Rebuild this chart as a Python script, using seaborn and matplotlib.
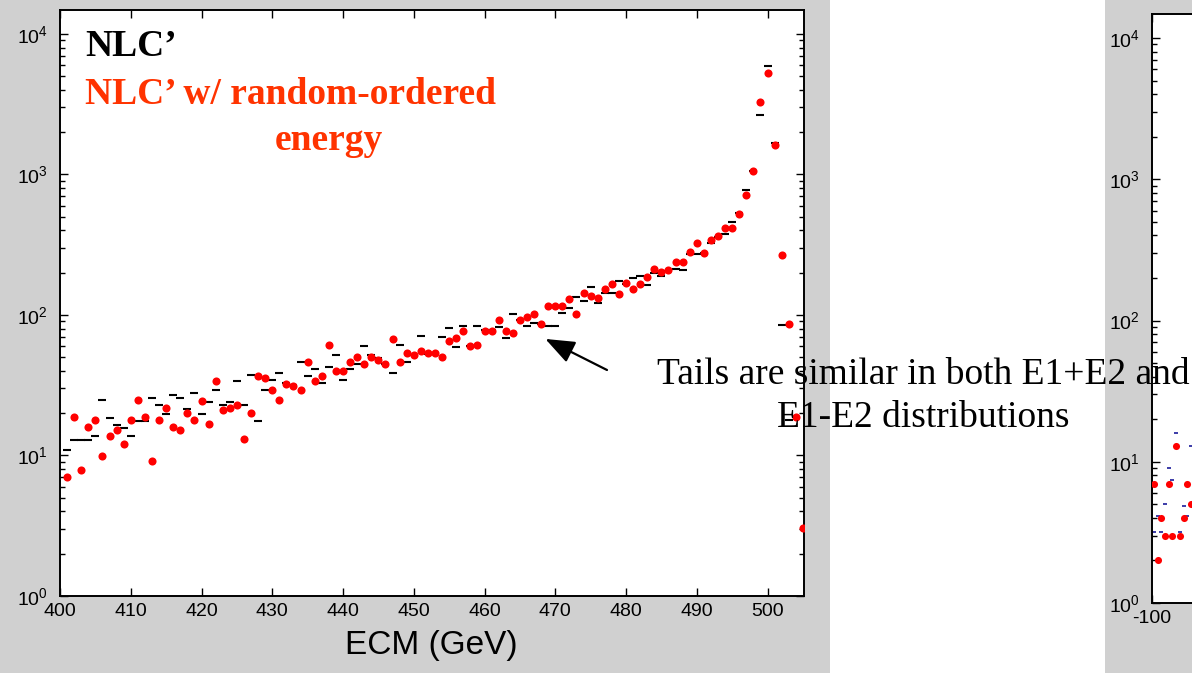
import numpy as np
import pandas as pd
import matplotlib
matplotlib.use("Agg")
import matplotlib.pyplot as plt
import seaborn as sns
from matplotlib.patches import Rectangle
from matplotlib.ticker import LogLocator, NullFormatter

# ---------------- data ----------------
ecm = list(range(401, 506))  # GeV bin centres

nlc_random = [7.03, 18.9, 7.85, 15.9, 17.8, 9.84, 13.8, 15.1, 12.0, 17.8,
              24.9, 18.9, 9.06, 17.8, 21.7, 15.9, 15.1, 19.9, 17.8, 24.3,
              16.8, 33.9, 21.1, 21.7, 22.9, 13.1, 19.9, 37.0, 35.8, 29.4,
              24.9, 32.1, 31.3, 29.4, 46.4, 33.9, 37.0, 61.4, 40.2, 40.2,
              46.4, 50.4, 45.1, 50.4, 47.7, 45.1, 66.9, 46.4, 53.5, 51.8,
              55.0, 53.5, 53.5, 50.4, 64.8, 68.9, 77.3, 59.7, 61.4, 77.3,
              77.3, 91.5, 77.3, 74.7, 91.5, 96.8, 102, 86.2, 115, 115,
              115, 129, 102, 144, 136, 132, 152, 165, 140, 170,
              152, 165, 186, 214, 203, 208, 238, 238, 282, 325,
              274, 341, 364, 418, 418, 523, 711, 1062, 3268, 5297,
              1619, 267, 86, 18.8, 3.03]

nlc = [10.9, 12.9, 12.9, 12.9, 13.7, 24.7, 18.6, 16.6, 15.7, 13.7,
       17.5, 17.5, 25.5, 22.7, 19.7, 26.9, 25.5, 21.4, 27.7, 19.7,
       24.1, 29.3, 22.7, 24.1, 33.7, 22.7, 37.6, 17.6, 29.3, 34.6,
       38.8, 32.8, 31.9, 46.0, 36.7, 41.1, 32.8, 42.5, 51.8, 34.7,
       41.1, 44.9, 59.7, 51.8, 49.0, 45.0, 38.6, 60.8, 46.0, 52.0,
       70.6, 53.0, 53.0, 70.0, 80.8, 59.2, 82.9, 60.0, 82.9, 78.5,
       78.5, 82.0, 68.1, 101, 92, 82.9, 87, 86, 83, 83,
       103, 112, 134, 126, 158, 122, 144, 144, 173, 165,
       183, 188, 163, 198, 188, 205, 214, 210, 271, 271,
       275, 327, 360, 379, 462, 532, 769, 1060, 2638, 5870,
       1682, 85, 18, np.nan, np.nan]

# second (cut-off) panel: E1-E2
e_diff = [-99.5, -98.5, -97.5, -96.5, -95.5, -94.5, -93.5, -92.5, -91.5, -90.5, -89.5]
diff_random = [7.0, 2.0, 4.0, 3.0, 7.0, 3.0, 13.0, 3.0, 4.0, 7.0, 5.0]
diff_nlc = [3.2, 4.1, 3.2, 5.0, 9.0, 7.4, 16.0, 3.2, 4.9, 4.1, 13.0]

xticks_main = [400, 410, 420, 430, 440, 450, 460, 470, 480, 490, 500]
xticks_diff = [-100]

df = pd.DataFrame({"ecm": ecm, "nlc": nlc, "rnd": nlc_random})
df2 = pd.DataFrame({"x": e_diff, "nlc": diff_nlc, "rnd": diff_random})

# ---------------- style ----------------
sns.set_style("ticks")
plt.rcParams["font.family"] = ["Liberation Sans", "DejaVu Sans"]
plt.rcParams["mathtext.fontset"] = "custom"
plt.rcParams["mathtext.rm"] = "Liberation Sans"
plt.rcParams["axes.unicode_minus"] = False
plt.rcParams["text.color"] = "black"
plt.rcParams["axes.labelcolor"] = "black"
plt.rcParams["xtick.color"] = "black"
plt.rcParams["ytick.color"] = "black"

W, H = 1192, 673
fig = plt.figure(figsize=(W / 100, H / 100), dpi=100)
fig.patch.set_facecolor("white")
grey = "#d0d0d0"
fig.add_artist(Rectangle((0, 0), 830 / W, 1, transform=fig.transFigure,
                         facecolor=grey, edgecolor="none", zorder=-10))
fig.add_artist(Rectangle((1105 / W, 0), 1 - 1105 / W, 1, transform=fig.transFigure,
                         facecolor=grey, edgecolor="none", zorder=-10))

ax = fig.add_axes([60 / W, 1 - 596 / H, (803.6 - 60) / W, (596 - 10) / H])
ax2 = fig.add_axes([1152 / W, 1 - 603 / H, (803.6 - 60) / W, (603 - 14) / H])


def style_axes(a):
    a.set_facecolor("white")
    a.set_yscale("log")
    a.set_ylim(1, 10 ** 4.17)
    for s in a.spines.values():
        s.set_linewidth(1.4)
        s.set_color("black")
    a.yaxis.set_major_locator(LogLocator(base=10, numticks=10))
    a.yaxis.set_minor_locator(LogLocator(base=10, subs=np.arange(2, 10), numticks=20))
    a.yaxis.set_minor_formatter(NullFormatter())
    a.tick_params(which="both", direction="in", top=True, right=True,
                  width=1.0, colors="black", labelsize=14)
    a.tick_params(which="major", length=6)
    a.tick_params(axis="x", which="major", pad=5)
    a.tick_params(axis="y", which="major", pad=9)
    a.tick_params(which="minor", length=3.5)
    a.set_xlabel("")
    a.set_ylabel("")


# main panel
sns.scatterplot(data=df, x="ecm", y="nlc", marker="_", color="black",
                s=28, linewidth=1.5, ax=ax, zorder=2, legend=False)
sns.scatterplot(data=df, x="ecm", y="rnd", marker="o", color="#ff0000",
                s=34, linewidth=0, ax=ax, zorder=3, legend=False)
style_axes(ax)
ax.set_xlim(400, 505.1)
ax.set_xticks(xticks_main)
ax.set_xticklabels([str(t) for t in xticks_main])
ax.set_xlabel("ECM (GeV)", fontsize=24, labelpad=7, color="black")

# second (cut-off) panel
sns.scatterplot(data=df2, x="x", y="nlc", marker="_", color="#1a1a9a",
                s=12, linewidth=1.2, ax=ax2, zorder=2, legend=False)
sns.scatterplot(data=df2, x="x", y="rnd", marker="o", color="#ff0000",
                s=26, linewidth=0, ax=ax2, zorder=3, legend=False)
style_axes(ax2)
ax2.set_xlim(-100, 100)
ax2.set_xticks(xticks_diff)
ax2.set_xticklabels([str(t) for t in xticks_diff])

# legend-like text
serif = ["Liberation Serif", "DejaVu Serif"]
fig.text(85 / W, 1 - 47 / H, "NLC\u2019", family=serif,
         fontsize=27, fontweight="bold", color="black", va="center", ha="left")
fig.text(85 / W, 1 - 95 / H, "NLC\u2019 w/ random-ordered", family=serif,
         fontsize=27, fontweight="bold", color="#ff3300", va="center", ha="left")
fig.text(329 / W, 1 - 141 / H, "energy", family=serif,
         fontsize=27, fontweight="bold", color="#ff3300", va="center", ha="center")

# annotation
fig.text(657 / W, 1 - 375 / H, "Tails are similar in both E1+E2 and", family=serif,
         fontsize=27, color="black", va="center", ha="left", zorder=10)
fig.text(923 / W, 1 - 418 / H, "E1-E2 distributions", family=serif,
         fontsize=27, color="black", va="center", ha="center", zorder=10)
ax.annotate("", xy=(468.6, 67.5), xycoords="data",
            xytext=(607 / W, 1 - 370 / H), textcoords="figure fraction",
            arrowprops=dict(arrowstyle="-|>,head_length=0.9,head_width=0.35",
                            color="black", lw=1.6, shrinkA=0, shrinkB=0,
                            mutation_scale=20))

fig.savefig("out.png", dpi=100, facecolor=fig.get_facecolor())
